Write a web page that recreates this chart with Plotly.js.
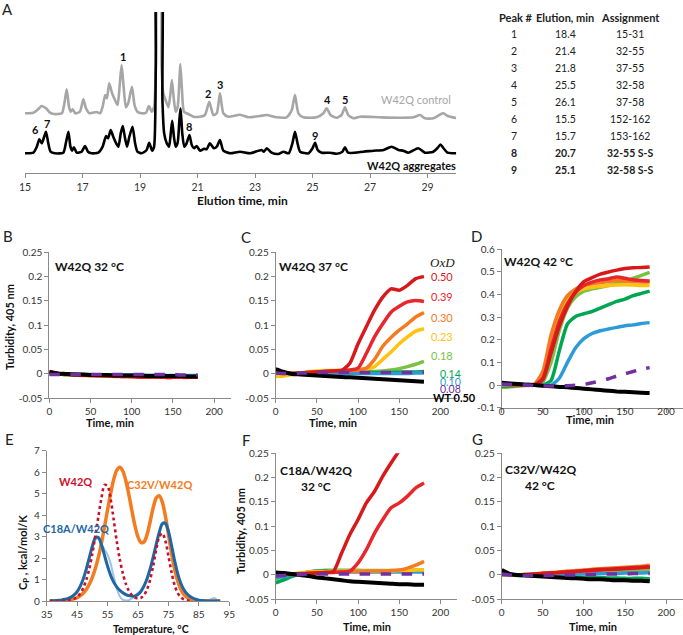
<!DOCTYPE html>
<html><head><meta charset="utf-8">
<script src="https://cdn.plot.ly/plotly-3.0.1.min.js"></script>
<style>html,body{margin:0;padding:0;background:#fff}#chart{width:683px;height:635px}</style>
</head><body><div id="chart"></div>
<script>
// ================= DATA =================
// Panel A: RP-HPLC chromatograms (elution time, min ; signal, arbitrary units)
const controlTime = [15.0,15.29,15.43,15.58,15.73,15.87,16.0,16.28,16.37,16.45,16.53,16.59,16.66,16.75,16.91,17.03,17.12,17.24,17.49,17.61,17.7,17.79,17.85,17.93,18.03,18.13,18.22,18.29,18.36,18.43,18.51,18.59,18.72,18.81,18.91,19.06,19.21,19.31,19.41,19.49,19.56,19.63,19.7,19.75,19.81,19.89,19.99,20.06,20.11,20.18,20.24,20.31,20.36,20.4,20.46,20.53,20.68,20.86,21.09,21.26,21.41,21.55,21.67,21.78,21.9,22.07,22.48,22.77,23.17,23.41,23.75,24.1,24.28,24.39,24.51,24.68,25.14,25.38,25.49,25.63,25.84,26.01,26.13,26.24,26.42,26.65,27.35,28.04,28.51,28.74,28.91,29.2,29.41,29.55,29.7,30.0];
const controlSignal = [59.7,60.3,63,67,64.7,60.3,59,59.7,69.7,83.7,66.3,61.3,63.7,59.7,61.3,73.7,64.7,59.7,61,59.7,66.3,78,74.7,89.7,79.7,73,68,86.3,108,86.3,65.7,69.7,86.3,68,61.3,59.7,60.3,67,61.3,66.3,123,206,206,106.3,79.7,73,65.7,79.7,93,73,61.3,66.3,86.3,109,83,61.3,59,56.3,56.3,58,71.3,58,59.7,79.7,59.7,56.3,58.3,55.7,57,58,55.7,55.7,63,78,59.7,55.7,55.7,59.7,64.7,58,55.3,58,65.7,58,54.7,56.3,55.7,55.3,55.7,58,54.7,54.7,58,59.7,57,55];
const aggTime = [15.0,15.29,15.41,15.5,15.58,15.65,15.73,15.81,15.89,16.04,16.33,16.42,16.51,16.58,16.64,16.7,16.8,16.97,17.09,17.19,17.32,17.55,17.7,17.82,17.89,17.98,18.07,18.17,18.25,18.33,18.4,18.48,18.55,18.63,18.74,18.83,18.91,19.06,19.23,19.32,19.42,19.49,19.55,19.61,19.72,19.78,19.84,19.93,20.01,20.07,20.12,20.18,20.24,20.31,20.37,20.41,20.47,20.54,20.62,20.72,20.8,20.88,20.97,21.09,21.23,21.32,21.43,21.57,21.67,21.78,21.9,22.13,22.48,22.83,23.23,23.31,23.41,23.58,23.81,23.99,24.17,24.3,24.39,24.48,24.57,24.86,25.0,25.09,25.18,25.32,25.61,25.84,26.04,26.13,26.24,26.77,27.12,27.47,27.75,27.99,28.16,28.33,28.68,28.91,29.2,29.35,29.45,29.55,29.7,30.0];
const aggSignal = [19.7,20.3,26.3,33.7,29.7,34.7,41.3,29.7,21.3,19.7,20.3,29.7,41.3,26.3,22.3,25.7,20.3,21.3,27,21.3,19.7,20.3,26.3,37,34.7,43,36.3,29.7,26.3,39.7,47,34.7,26.3,36.3,46.3,29.7,21.3,19.7,23,30.3,22.3,26.3,106.3,240,240,73,39.7,29.7,26.3,39.7,52.3,36.3,26.3,30.3,53,64.7,39.7,26.3,29.7,38,28,24.7,27,22.3,24.3,23.7,29.7,24.7,26.3,33,22.3,19.7,21.3,19.7,23,21.3,24.7,20.3,19,21.3,19.7,29.7,41.3,29.7,21.3,19.7,24.7,30.3,23,20.3,20.3,19.3,21.3,25.7,20.3,21.3,22.3,23,26.3,23,22.3,20.3,24.7,20.3,21.3,25,28.5,25,20.3,19.7];
const elutionTickVals = [15,17,19,21,23,25,27,29];
const elutionTickText = ['15','17','19','21','23','25','27','29'];
const peakNumbers = ['1','2','3','4','5','6','7','8','9'];
const peakElution = ['18.4','21.4','21.8','25.5','26.1','15.5','15.7','20.7','25.1'];
const peakAssignment = ['15-31','32-55','37-55','32-58','37-58','152-162','153-162','32-55 S-S','32-58 S-S'];

// Panels B-D, F, G: turbidity at 405 nm vs time (min)
const timeMin = [0,10,20,30,40,50,60,70,80,90,100,110,120,130,140,150,160,170,180];
const oxdLabels = ['0.50','0.39','0.30','0.23','0.18','0.14','0.10','0.08','WT 0.50'];

const turbB_050 = [0.005,0.001,0,-0.001,-0.002,-0.003,-0.003,-0.004,-0.004,-0.005,-0.005,-0.006,-0.006,-0.006,-0.007,-0.007,-0.007,-0.007,-0.007];
const turbB_039 = [0.003,0.001,0,-0.001,-0.002,-0.002,-0.003,-0.003,-0.004,-0.004,-0.005,-0.005,-0.005,-0.006,-0.006,-0.006,-0.006,-0.006,-0.006];
const turbB_030 = [0.002,0,-0.001,-0.002,-0.003,-0.003,-0.004,-0.004,-0.005,-0.005,-0.005,-0.006,-0.006,-0.006,-0.007,-0.007,-0.007,-0.007,-0.006];
const turbB_023 = [0.001,0,-0.001,-0.002,-0.002,-0.003,-0.003,-0.003,-0.004,-0.004,-0.004,-0.005,-0.005,-0.005,-0.005,-0.006,-0.006,-0.006,-0.006];
const turbB_018 = [0.002,0,-0.001,-0.001,-0.002,-0.002,-0.002,-0.003,-0.003,-0.003,-0.003,-0.004,-0.004,-0.004,-0.004,-0.004,-0.004,-0.005,-0.005];
const turbB_014 = [0,0,-0.001,-0.001,-0.001,-0.002,-0.002,-0.002,-0.002,-0.003,-0.003,-0.003,-0.003,-0.003,-0.003,-0.004,-0.004,-0.004,-0.004];
const turbB_010 = [0,0,-0.001,-0.001,-0.001,-0.001,-0.002,-0.002,-0.002,-0.002,-0.002,-0.003,-0.003,-0.003,-0.003,-0.003,-0.003,-0.003,-0.003];
const turbB_008 = [-0.001,-0.001,-0.001,-0.001,-0.001,-0.001,-0.001,-0.001,-0.001,-0.001,-0.001,-0.001,-0.001,-0.001,-0.001,-0.001,-0.002,-0.002,-0.002];
const turbB_wt  = [0.004,0.001,0,-0.001,-0.001,-0.002,-0.002,-0.002,-0.003,-0.003,-0.003,-0.003,-0.004,-0.004,-0.004,-0.004,-0.004,-0.005,-0.005];

const turbC_050 = [0.004,0.002,0.001,0.002,0.003,0.004,0.005,0.006,0.007,0.022,0.062,0.097,0.131,0.158,0.175,0.172,0.182,0.196,0.2];
const turbC_039 = [0.003,0.002,0.001,0.002,0.003,0.004,0.005,0.006,0.007,0.008,0.012,0.042,0.076,0.103,0.127,0.139,0.148,0.151,0.149];
const turbC_030 = [0.002,0.001,0.001,0.002,0.003,0.004,0.005,0.006,0.006,0.007,0.008,0.012,0.03,0.057,0.075,0.09,0.103,0.117,0.126];
const turbC_023 = [-0.005,-0.004,-0.001,0.002,0.005,0.006,0.007,0.007,0.008,0.008,0.009,0.01,0.015,0.03,0.045,0.062,0.076,0.088,0.093];
const turbC_018 = [0,0,0.001,0.002,0.002,0.003,0.003,0.003,0.004,0.004,0.004,0.005,0.005,0.006,0.008,0.011,0.015,0.02,0.026];
const turbC_014 = [0.001,0.001,0.001,0.002,0.002,0.002,0.002,0.002,0.003,0.003,0.003,0.003,0.003,0.003,0.003,0.004,0.004,0.004,0.005];
const turbC_010 = [0,0,0,0.001,0.001,0.001,0.001,0.001,0.001,0.001,0.001,0.001,0.001,0.001,0.001,0.001,0.001,0.002,0.002];
const turbC_008 = [0.002,0.001,0.001,0.002,0.002,0.003,0.003,0.003,0.003,0.003,0.003,0.003,0.003,0.003,0.003,0.003,0.003,0.003,0.004];
const turbC_wt  = [0.01,0.004,0,-0.001,-0.002,-0.003,-0.004,-0.005,-0.006,-0.007,-0.008,-0.009,-0.01,-0.011,-0.012,-0.013,-0.014,-0.015,-0.016];

const turbD_050 = [0.005,0.003,0.001,0,0.001,0.024,0.141,0.259,0.347,0.413,0.457,0.475,0.49,0.5,0.508,0.515,0.518,0.52,0.522];
const turbD_039 = [0.004,0.002,0.001,0,0.001,0.03,0.16,0.28,0.36,0.41,0.44,0.455,0.465,0.47,0.478,0.472,0.465,0.462,0.46];
const turbD_030 = [0.003,0.002,0.001,0,0.005,0.06,0.22,0.33,0.395,0.425,0.44,0.448,0.452,0.457,0.462,0.46,0.458,0.456,0.455];
const turbD_023 = [0.002,0.001,0,0,0.003,0.04,0.19,0.31,0.38,0.41,0.425,0.432,0.436,0.44,0.442,0.443,0.442,0.44,0.44];
const turbD_018 = [-0.01,-0.008,-0.004,-0.002,0,0.015,0.1,0.24,0.34,0.39,0.415,0.425,0.432,0.44,0.45,0.46,0.472,0.485,0.498];
const turbD_014 = [-0.005,-0.004,-0.002,-0.001,0,0,0.02,0.15,0.27,0.303,0.315,0.325,0.34,0.355,0.37,0.38,0.395,0.405,0.415];
const turbD_010 = [0,0,0,0,0,-0.001,-0.001,0.03,0.1,0.165,0.205,0.228,0.24,0.248,0.255,0.262,0.266,0.272,0.276];
const turbD_008 = [0.005,0.003,0.001,0,-0.002,-0.003,-0.004,-0.004,-0.003,-0.001,0.003,0.01,0.018,0.028,0.04,0.05,0.06,0.07,0.077];
const turbD_wt  = [0.01,0.007,0.005,0.002,0,-0.003,-0.005,-0.008,-0.01,-0.013,-0.016,-0.019,-0.022,-0.025,-0.028,-0.03,-0.032,-0.034,-0.035];

const turbF_050 = [0.004,0.002,0.001,0.002,0.003,0.004,0.005,0.007,0.045,0.083,0.114,0.148,0.172,0.203,0.23,0.255,0.275,0.29,0.3];
const turbF_039 = [0.003,0.002,0.001,0.002,0.003,0.004,0.005,0.005,0.006,0.008,0.025,0.052,0.086,0.114,0.138,0.148,0.162,0.179,0.189];
const turbF_030 = [0.002,0.002,0.002,0.003,0.004,0.005,0.005,0.006,0.006,0.007,0.007,0.008,0.008,0.008,0.009,0.01,0.014,0.02,0.028];
const turbF_023 = [0,0.001,0.002,0.004,0.006,0.007,0.007,0.008,0.008,0.008,0.008,0.008,0.008,0.008,0.008,0.009,0.009,0.01,0.01];
const turbF_018 = [-0.008,-0.004,0,0.003,0.006,0.008,0.009,0.009,0.009,0.009,0.009,0.009,0.009,0.009,0.009,0.009,0.01,0.01,0.01];
const turbF_014 = [-0.016,-0.01,-0.003,0.002,0.006,0.008,0.009,0.009,0.009,0.009,0.009,0.008,0.008,0.008,0.008,0.008,0.008,0.008,0.008];
const turbF_010 = [-0.005,-0.003,0,0.002,0.004,0.005,0.006,0.006,0.006,0.006,0.006,0.006,0.006,0.006,0.006,0.006,0.006,0.006,0.006];
const turbF_008 = [-0.002,-0.001,0,0.001,0.002,0.002,0.002,0.002,0.002,0.002,0.002,0.002,0.002,0.002,0.002,0.002,0.002,0.002,0.002];
const turbF_wt  = [0.005,0.004,0.002,0,-0.002,-0.005,-0.007,-0.009,-0.011,-0.013,-0.014,-0.015,-0.016,-0.017,-0.018,-0.019,-0.019,-0.02,-0.02];

const turbG_050 = [0.002,0.001,0,0,0.002,0.003,0.004,0.005,0.006,0.007,0.009,0.01,0.011,0.012,0.013,0.014,0.015,0.016,0.017];
const turbG_039 = [0.002,0.001,0,0.001,0.002,0.003,0.004,0.005,0.006,0.007,0.008,0.009,0.01,0.011,0.012,0.013,0.014,0.015,0.016];
const turbG_030 = [0.001,0.001,0,0.001,0.002,0.004,0.005,0.006,0.008,0.009,0.01,0.012,0.013,0.014,0.015,0.016,0.017,0.018,0.02];
const turbG_023 = [0.001,0,0,0.001,0.002,0.003,0.004,0.005,0.006,0.007,0.008,0.009,0.01,0.011,0.012,0.013,0.014,0.015,0.016];
const turbG_018 = [0,0,0,0,0.001,0.001,0.002,0.002,0.003,0.003,0.004,0.005,0.005,0.006,0.007,0.007,0.008,0.009,0.01];
const turbG_014 = [0,0,-0.001,-0.001,-0.002,-0.002,-0.003,-0.003,-0.004,-0.004,-0.005,-0.005,-0.005,-0.006,-0.006,-0.007,-0.007,-0.007,-0.008];
const turbG_010 = [0.001,0,0,0,0,0.001,0.001,0.001,0.001,0.002,0.002,0.002,0.003,0.003,0.003,0.004,0.004,0.004,0.005];
const turbG_008 = [0.002,0,-0.001,-0.001,-0.001,-0.001,-0.001,0,0,0,0.001,0.001,0.001,0.002,0.002,0.002,0.003,0.003,0.003];
const turbG_wt  = [0.01,0.002,0,-0.001,-0.002,-0.003,-0.004,-0.005,-0.006,-0.007,-0.008,-0.009,-0.009,-0.01,-0.011,-0.011,-0.012,-0.012,-0.013];

const turbTickVals = [-0.05,0,0.05,0.1,0.15,0.2,0.25];
const turbTickText = ['-0.05','0','0.05','0.1','0.15','0.2','0.25'];
const turbDTickVals = [-0.1,0,0.1,0.2,0.3,0.4,0.5,0.6];
const turbDTickText = ['-0.1','0','0.1','0.2','0.3','0.4','0.5','0.6'];
const timeTickVals = [0,50,100,150,200];
const timeTickText = ['0','50','100','150','200'];

// Panel E: DSC, Cp (kcal/mol/K) vs temperature (°C)
const tempC = [36,37,38,39,40,41,42,43,44,45,46,47,48,49,50,51,52,53,54,55,56,57,58,59,60,61,62,63,64,65,66,67,68,69,70,71,72,73,74,75,76,77,78,79,80,81,82,83,84,85,86,87,88,89,90,91,92];
const cpC32V = [0,0,0.01,0.01,0.02,0.03,0.05,0.07,0.11,0.16,0.24,0.36,0.53,0.78,1.1,1.52,2.05,2.7,3.45,4.25,5.0,5.65,6.08,6.22,6.05,5.6,4.95,4.2,3.5,2.98,2.72,2.75,3.1,3.7,4.35,4.8,4.9,4.6,3.95,3.1,2.25,1.5,0.95,0.56,0.32,0.18,0.1,0.05,0.03,0.01,0,0,0,0,0,0,0];
const cpC18A = [0.01,0.01,0.02,0.03,0.05,0.08,0.12,0.18,0.28,0.43,0.68,1.02,1.48,2.02,2.55,2.95,2.95,2.62,2.12,1.62,1.2,0.88,0.66,0.5,0.38,0.3,0.25,0.23,0.23,0.3,0.45,0.7,1.05,1.5,2.05,2.65,3.2,3.6,3.62,3.25,2.6,1.9,1.3,0.85,0.55,0.35,0.22,0.14,0.08,0.04,0.02,0.01,0,0,0,0,0];
const cpC18Araw = [0.01,0.01,0.02,0.03,0.05,0.08,0.12,0.18,0.28,0.43,0.68,1.02,1.48,2.0,2.5,2.85,2.9,2.65,2.4,2.15,1.75,1.15,0.6,0.22,0.06,0.02,0.04,0.12,0.25,0.38,0.52,0.75,1.08,1.5,2.05,2.65,3.2,3.55,3.55,3.2,2.55,1.85,1.25,0.8,0.5,0.3,0.18,0.1,0.06,0.03,0.02,0.01,0.03,0.08,0.14,0.05,0.02];
const cpW42Q = [0,0,0,0,0,0.01,0.02,0.05,0.1,0.18,0.35,0.6,0.98,1.5,2.2,3.05,3.95,4.8,5.4,5.35,4.75,3.8,2.8,1.95,1.3,0.8,0.47,0.27,0.16,0.12,0.15,0.28,0.55,1.0,1.65,2.4,3.0,3.15,2.8,2.1,1.35,0.75,0.38,0.18,0.08,0.03,0.01,0,null,null,null,null,null,null,null,null,null];
const tempTickVals = [35,45,55,65,75,85,95];
const tempTickText = ['35','45','55','65','75','85','95'];
const cpTickVals = [0,1,2,3,4,5,6,7];
const cpTickText = ['0','1','2','3','4','5','6','7'];

// ================= LAYOUT HELPERS =================
const W = 683, H = 635;
const FONT = 'Lato, "Open Sans", sans-serif';
const dx = (a, b) => [a / W, b / W];
const dy = (top, bottom) => [1 - bottom / H, 1 - top / H];
const annotations = [];
function ann(text, px, py, o) {
  o = o || {};
  annotations.push({
    text: text, x: px / W, y: 1 - py / H, xref: 'paper', yref: 'paper',
    xanchor: o.xanchor || 'center', yanchor: 'middle', showarrow: false,
    textangle: o.angle || 0,
    font: { family: o.family || FONT, size: o.size || 11, color: o.color || '#111' }
  });
}
function axis(domain, range, anchor, extra) {
  return Object.assign({
    domain: domain, range: range, anchor: anchor, showgrid: false, zeroline: false,
    showline: true, linecolor: '#8a8a8a', linewidth: 1, ticks: 'outside', ticklen: 4,
    tickcolor: '#8a8a8a', tickfont: { family: FONT, size: 10, color: '#333' }, fixedrange: true
  }, extra || {});
}

const C = {
  r50: '#d7191c', r39: '#e8262b', o30: '#f47b20', y23: '#ffc20e', lg18: '#7ac143',
  g14: '#00a651', b10: '#2e9bd8', p08: '#7030a0', wt: '#000000'
};

const traces = [];
// Panel A
traces.push({ x: controlTime, y: controlSignal, xaxis: 'x', yaxis: 'y', mode: 'lines',
  line: { color: '#a6a6a6', width: 2.6, shape: 'spline', smoothing: 0.6 }, hoverinfo: 'skip' });
traces.push({ x: aggTime, y: aggSignal, xaxis: 'x', yaxis: 'y', mode: 'lines',
  line: { color: '#000', width: 2.6, shape: 'spline', smoothing: 0.6 }, hoverinfo: 'skip' });

function turbSet(ax, ay, s) {
  const order = [['lg18', s[4]], ['g14', s[5]], ['b10', s[6]], ['y23', s[3]], ['o30', s[2]], ['r39', s[1]], ['r50', s[0]], ['wt', s[8]], ['p08', s[7]]];
  order.forEach(([k, vals]) => {
    traces.push({ x: timeMin, y: vals, xaxis: ax, yaxis: ay, mode: 'lines', hoverinfo: 'skip',
      line: { color: C[k], width: k === 'wt' ? 4 : 3.5, dash: k === 'p08' ? 'dash' : 'solid', shape: 'spline', smoothing: 0.6 } });
  });
}
turbSet('x2', 'y2', [turbB_050, turbB_039, turbB_030, turbB_023, turbB_018, turbB_014, turbB_010, turbB_008, turbB_wt]);
turbSet('x3', 'y3', [turbC_050, turbC_039, turbC_030, turbC_023, turbC_018, turbC_014, turbC_010, turbC_008, turbC_wt]);
turbSet('x4', 'y4', [turbD_050, turbD_039, turbD_030, turbD_023, turbD_018, turbD_014, turbD_010, turbD_008, turbD_wt]);
turbSet('x6', 'y6', [turbF_050, turbF_039, turbF_030, turbF_023, turbF_018, turbF_014, turbF_010, turbF_008, turbF_wt]);
turbSet('x7', 'y7', [turbG_050, turbG_039, turbG_030, turbG_023, turbG_018, turbG_014, turbG_010, turbG_008, turbG_wt]);

// Panel E
traces.push({ x: tempC, y: cpC18Araw, xaxis: 'x5', yaxis: 'y5', mode: 'lines', hoverinfo: 'skip',
  line: { color: '#9dc3e6', width: 2, shape: 'spline', smoothing: 0.6 } });
traces.push({ x: tempC, y: cpC32V, xaxis: 'x5', yaxis: 'y5', mode: 'lines', hoverinfo: 'skip',
  line: { color: '#f47b20', width: 3.5, shape: 'spline', smoothing: 0.8 } });
traces.push({ x: tempC, y: cpC18A, xaxis: 'x5', yaxis: 'y5', mode: 'lines', hoverinfo: 'skip',
  line: { color: '#1f67a3', width: 3, shape: 'spline', smoothing: 0.8 } });
traces.push({ x: tempC, y: cpW42Q, xaxis: 'x5', yaxis: 'y5', mode: 'lines', hoverinfo: 'skip', connectgaps: false,
  line: { color: '#c8102e', width: 2.6, dash: 'dot', shape: 'spline', smoothing: 0.8 } });

// ================= TEXT =================
// panel letters
[['A', 7, 9], ['B', 7.5, 236], ['C', 246, 237], ['D', 476, 236], ['E', 9, 439], ['F', 245.5, 440], ['G', 477, 439]]
  .forEach(([t, x, y]) => ann(t, x, y, { size: 15, color: '#222' }));

// Panel A labels
ann('<b>Elution time, min</b>', 242, 200, { size: 12 });
ann('W42Q control', 453, 100, { xanchor: 'right', color: '#a6a6a6', size: 11 });
ann('<b>W42Q aggregates</b>', 458, 165, { xanchor: 'right', size: 11 });
const peakLabelPos = [[122.7, 56.7], [208.3, 93.3], [220, 85], [327.3, 99.3], [345, 99.3], [35.7, 129.3], [47.3, 123.3], [189.3, 126.7], [315, 135]];
peakNumbers.forEach((p, i) => ann('<b>' + p + '</b>', peakLabelPos[i][0], peakLabelPos[i][1], { size: 11 }));

// table
ann('<b>Peak #</b>', 497, 17.3, { xanchor: 'left', size: 11, color: '#222' });
ann('<b>Elution, min</b>', 533.5, 17.3, { xanchor: 'left', size: 11, color: '#222' });
ann('<b>Assignment</b>', 598.5, 17.3, { xanchor: 'left', size: 11, color: '#222' });
peakNumbers.forEach((p, i) => {
  const y = 34 + i * 16.95;
  const b = i >= 7;
  const w = s => b ? '<b>' + s + '</b>' : s;
  ann(w(p), 514, y, { size: 10.5, color: '#222' });
  ann(w(peakElution[i]), 565, y, { size: 10.5, color: '#222' });
  ann(w(peakAssignment[i]), 630, y, { size: 10.5, color: '#222' });
});

// panel titles
ann('<b>W42Q 32 °C</b>', 89, 266.7, { size: 12 });
ann('<b>W42Q 37 °C</b>', 313, 266.7, { size: 12 });
ann('<b>W42Q 42 °C</b>', 538.5, 261.7, { size: 12 });
ann('<b>C18A/W42Q</b>', 316, 470, { size: 12 });
ann('<b>32 °C</b>', 316, 486.7, { size: 12 });
ann('<b>C32V/W42Q</b>', 541, 469.3, { size: 12 });
ann('<b>42 °C</b>', 540, 485, { size: 12 });

// OxD labels (panel C)
ann('<i>OxD</i>', 428, 262, { xanchor: 'left', family: '"Liberation Serif", "DejaVu Serif", serif', size: 13, color: '#222' });
const oxdColors = [C.r50, C.r39, C.o30, C.y23, C.lg18, C.g14, C.b10, C.p08, '#000'];
const oxdPos = [[429, 276.7], [429, 296.7], [429, 317.3], [429, 336.7], [429, 355], [438, 374.3], [438, 381.7], [438, 389.3], [430.7, 397.7]];
oxdLabels.forEach((t, i) => ann(i === 8 ? '<b>' + t + '</b>' : t, oxdPos[i][0], oxdPos[i][1],
  { xanchor: 'left', size: (i >= 5 && i <= 7) ? 10.5 : 11, color: oxdColors[i] }));

// axis titles
ann('<b>Turbidity, 405 nm</b>', 10, 327, { angle: -90, size: 11 });
ann('<b>Turbidity, 405 nm</b>', 240, 531, { angle: -90, size: 11 });
ann('<b>C<sub>P</sub> , kcal/mol/K</b>', 23, 553, { angle: -90, size: 11 });
ann('<b>Time, min</b>', 110, 423, { size: 11 });
ann('<b>Time, min</b>', 333, 423, { size: 11 });
ann('<b>Time, min</b>', 590, 419, { size: 11 });
ann('<b>Time, min</b>', 366.7, 626.7, { size: 11 });
ann('<b>Time, min</b>', 593.3, 626.7, { size: 11 });
ann('<b>Temperature, °C</b>', 151, 629, { size: 10.5 });

// panel E labels
ann('<b>W42Q</b>', 75, 481.7, { size: 11, color: '#d0102a' });
ann('<b>C32V/W42Q</b>', 159, 484, { size: 11, color: '#f47b20' });
ann('<b>C18A/W42Q</b>', 75.5, 528, { size: 11, color: '#2067a4' });

const timeAx = (dom, anchor, extra) => axis(dom, [0, 220], anchor, Object.assign({ tickvals: timeTickVals, ticktext: timeTickText }, extra || {}));
const turbAx = (dom, anchor) => axis(dom, [-0.05, 0.25], anchor, { tickvals: turbTickVals, ticktext: turbTickText });

const layout = {
  width: W, height: H, margin: { l: 0, r: 0, t: 0, b: 0 }, showlegend: false,
  paper_bgcolor: '#fff', plot_bgcolor: 'rgba(0,0,0,0)',
  xaxis: axis(dx(25, 456.25), [15, 30], 'y', { tickvals: elutionTickVals, ticktext: elutionTickText, tickfont: { family: FONT, size: 10.5, color: '#333' } }),
  yaxis: axis(dy(12, 173), [0, 161], 'x', { visible: false }),
  xaxis2: timeAx(dx(49.3, 230.6), 'y2'),
  yaxis2: turbAx(dy(252.3, 398.3), 'x2'),
  xaxis3: timeAx(dx(275.7, 456.9), 'y3'),
  yaxis3: turbAx(dy(252.3, 398.3), 'x3'),
  xaxis4: timeAx(dx(501.7, 682.5), 'y4', { ticklabelstandoff: -10 }),
  yaxis4: axis(dy(249.3, 407.7), [-0.1, 0.6], 'x4', { tickvals: turbDTickVals, ticktext: turbDTickText }),
  xaxis5: axis(dx(46.7, 229.3), [35, 95], 'y5', { tickvals: tempTickVals, ticktext: tempTickText }),
  yaxis5: axis(dy(450.6, 601), [0, 7], 'x5', { tickvals: cpTickVals, ticktext: cpTickText }),
  xaxis6: timeAx(dx(275.7, 457), 'y6'),
  yaxis6: turbAx(dy(453.3, 599.3), 'x6'),
  xaxis7: timeAx(dx(501.7, 682.7), 'y7'),
  yaxis7: turbAx(dy(453.3, 599.3), 'x7'),
  annotations: annotations
};

Plotly.newPlot('chart', traces, layout, { displayModeBar: false, staticPlot: true });
</script>
</body></html>
